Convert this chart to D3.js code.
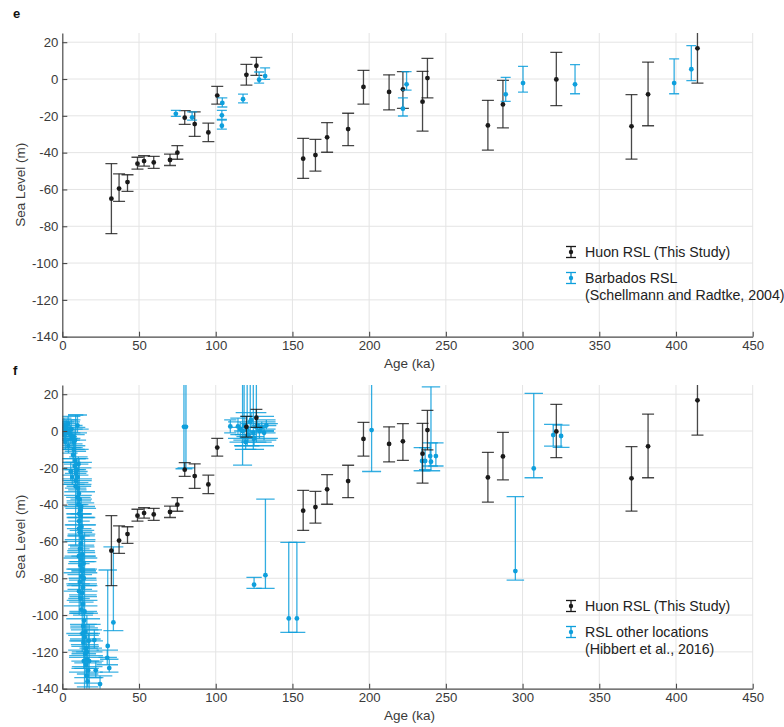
<!DOCTYPE html>
<html>
<head>
<meta charset="utf-8">
<script src="https://cdn.jsdelivr.net/npm/d3@7"></script>
<style>
  body { margin: 0; background: #fff; }
  svg { display: block; font-family: 'Liberation Sans', Arial, Helvetica, sans-serif; }
</style>
</head>
<body>
<svg id="chart" width="784" height="727"></svg>
<script>
// rows: [age (ka), RSL (m), lower (m), upper (m)]
const huonRSL = [
  [32, -65, -84, -46], [37, -59.5, -66.5, -51.5], [42.5, -56, -61, -52],
  [49, -46, -49, -42.5], [53.3, -44.6, -47.3, -41.7], [59.6, -45.3, -48.5, -42],
  [70.2, -44, -47, -40.8], [75, -40, -43.6, -36.2], [79.8, -21, -24.6, -17.2],
  [86.3, -24.5, -31.2, -17.8], [95.2, -29, -34, -24], [101, -9, -13.6, -4],
  [120, 2.3, -3.3, 8], [126.5, 7.2, 2, 11.8], [157, -43.3, -54, -32.2],
  [165, -41.3, -50, -32.8], [172.6, -31.7, -39.8, -23.7], [186.3, -27.2, -36.2, -18.6],
  [196.3, -4.3, -13.6, 4.7], [213, -7, -16.8, 2.3], [222, -5.6, -15.9, 4],
  [234.8, -12.3, -28.3, 4.2], [238, 0.5, -10.3, 11.2], [277.4, -25.2, -38.6, -11.6],
  [287.2, -13.8, -26.5, -0.7], [322, -0.2, -14.5, 14.5], [371, -25.7, -43.5, -8.5],
  [381.8, -8.3, -25.4, 9.2], [414, 16.7, -2.2, 36]
];

const barbadosRSL = [
  [74, -18.9, -20.3, -17], [84.6, -20.8, -22.3, -17.9], [104.3, -13, -15.2, -10.2],
  [104, -19.7, -21.9, -17], [104, -25.4, -27.2, -22.3], [117.8, -11, -13, -8.2],
  [128.3, -0.4, -2.2, 3.8], [132.2, 1.6, -0.2, 6], [222, -16.1, -20.1, -10.2],
  [224.4, -2.9, -6, 4], [289, -8.3, -12.1, 0.9], [300.3, -2.2, -7.1, 6.9],
  [334.2, -2.9, -8, 7.8], [398.8, -2.2, -8, 10.9], [410, 5.3, -0.9, 18.1]
];

// rows: [age (ka), RSL (m), lower (m), upper (m), cap half-width (ka)]
const hibbertPostglacial = [
  [0.3, 1, -3, 5, 4], [1.0, 3, -1, 7, 5], [1.8, 0, -5, 5, 6], [2.5, 2, -3, 6, 7],
  [3.0, -1, -6, 4, 6], [3.8, 4, -1, 8, 8], [4.5, 0, -5, 5, 7], [5.2, -2, -7, 3, 8],
  [5.8, 1, -4, 6, 6], [6.3, -4, -9, 1, 7], [7.0, -3, -8, 2, 8], [7.6, -6, -10, -2, 7],
  [2.0, -6, -10, -2, 5], [8.2, -5, -10, 1, 9], [9.9, 3, -1, 8.7, 6.2],
  [1.2, -2, -5, 2, 4], [4.0, -8, -12, -4, 6],
  [7.5, -10, -15, -5, 8], [8.5, -16, -21, -11, 7], [8.0, -19, -24, -15, 9],
  [9.3, -21, -26, -17, 10], [9.0, -23, -28, -18, 8], [10.0, -25, -29, -20, 9],
  [8.7, -27, -31, -23, 7], [5.5, -22, -27, -17, 6], [7.0, -13, -17, -9, 5],
  [10.5, -18, -22, -14, 6], [6.5, -25, -29, -21, 8],
  [10.2, -31, -35, -27, 9], [10.8, -34, -38, -30, 8], [11.3, -37, -41, -33, 10],
  [10.5, -40, -45, -36, 8], [11.8, -43, -47, -39, 9], [12.0, -46, -51, -42, 10],
  [11.0, -49, -53, -45, 8], [12.5, -52, -56, -47, 9], [11.6, -55, -59, -51, 10],
  [12.8, -58, -62, -54, 8], [9.8, -36, -40, -32, 6], [12.3, -41, -45, -37, 7],
  [10.9, -53, -57, -49, 7],
  [12.2, -61, -65, -57, 9], [11.5, -64, -68, -60, 10], [13.0, -67, -71, -63, 8],
  [12.4, -70, -75, -66, 9], [11.8, -73, -77, -69, 11], [13.2, -76, -80, -71, 9],
  [12.6, -79, -83, -75, 10], [11.4, -82, -86, -78, 8], [13.4, -85, -89, -81, 9],
  [12.9, -88, -92, -84, 10], [11.9, -91, -95, -87, 11], [13.6, -94, -98, -90, 9],
  [12.4, -97, -99, -93, 8], [10.8, -68, -72, -64, 7], [13.9, -72, -76, -68, 8],
  [10.9, -87, -91, -83, 7], [14.0, -80, -84, -76, 8],
  [14.2, -103, -107, -99, 9], [13.6, -106, -110, -102, 11], [15.0, -109, -113, -105, 10],
  [14.6, -112, -116, -108, 9], [13.8, -115, -119, -111, 10], [15.5, -118, -122, -114, 11],
  [14.9, -121, -125, -117, 9], [16.2, -124, -128, -120, 10], [15.4, -127, -131, -123, 11],
  [16.8, -130, -134, -126, 9], [15.8, -133, -137, -129, 8], [16.5, -136, -139, -132, 7],
  [13.2, -110, -114, -106, 8], [17.2, -114, -118, -110, 6], [14.0, -125, -129, -121, 8],
  [8.7, -30, -62, 8.7, 5], [11.0, -45, -100, -15, 4], [14.5, -98, -141, -55, 5],
  [16.0, -120, -141, -100, 4], [13.0, -75, -120, -40, 4], [17.5, -125, -141, -105, 5],
  [20.9, -113.6, -118, -108, 5], [21.8, -130, -134, -125, 5], [24.6, -137.5, -141, -133, 8],
  [29.6, -116.8, -123, -75.5, 6], [29.3, -123.2, -127, -119, 7], [30.6, -128.8, -131, -124, 6],
  [33.3, -104, -108.5, -62.9, 6.5]
];

const hibbertOlder = [
  [79.3, 2.3, -20.5, 60, 5.5], [80.6, 2.3, -20, 60, 5.5],
  [109.5, 2.5, -1, 6, 4], [114.5, 2.5, -2, 7, 5], [117.5, 0, -18.5, 40, 6.2],
  [118.5, 3, -5, 40, 7], [120.5, 1, -8, 40, 8], [122.5, 5, -3, 40, 9],
  [124.5, -1, -10, 40, 7], [126.5, 2, -6, 40, 10],
  [121, -2, -6, 2, 12], [123, 6, 2, 10, 10], [125, -4, -8, 0, 13],
  [127, 3, 0, 8, 11], [128.5, 0, -4, 4, 12], [130, 2, -1, 5, 9],
  [131.5, -1, -5, 3, 8], [133, 3, 1, 6, 6], [119.5, -6, -10, -2, 7], [116, 1, -4, 5, 8],
  [125, -83.5, -85.5, -79.5, 5], [132.4, -78.3, -85.5, -37, 6],
  [147.6, -101.8, -109.4, -60.5, 5.5], [152.9, -101.8, -109.4, -60.5, 5.5],
  [201.6, 0.5, -22, 60, 6.2],
  [234.5, -16.3, -21.6, -9, 5.5], [236.5, -16.3, -21, -9, 4], [239.8, -13.6, -19, -6.4, 5],
  [240.3, -16.7, -21.6, 24, 6], [243.5, -13.6, -19, -6.4, 5],
  [295.3, -76.1, -81, -35.7, 5.7], [307.3, -20.3, -25.4, 20.5, 6],
  [320, -2.2, -8.2, 3.6, 6], [325.1, -2.7, -8.9, 3.2, 5.5]
];

const ageTicks = [0, 50, 100, 150, 200, 250, 300, 350, 400, 450];
const rslTicks = [-140, -120, -100, -80, -60, -40, -20, 0, 20];

const BLACK = '#1a1a1a';
const BLUE = '#0e9fdc';

const svg = d3.select('#chart');

function errorBars(layer, data, x, y, color, capPx, lineOpacity)
{
  const grp = layer.append('g');
  const bars = grp.selectAll('g').data(data).join('g')
    .attr('stroke', color)
    .attr('stroke-width', 1.3)
    .attr('stroke-opacity', lineOpacity);

  bars.append('line')
    .attr('x1', d => x(d[0])).attr('x2', d => x(d[0]))
    .attr('y1', d => y(d[2])).attr('y2', d => y(d[3]));

  const half = d => capPx != null ? capPx : x(d[4]) - x(0);
  [2, 3].forEach(k => {
    bars.append('line')
      .attr('x1', d => x(d[0]) - half(d)).attr('x2', d => x(d[0]) + half(d))
      .attr('y1', d => y(d[k])).attr('y2', d => y(d[k]));
  });

  grp.selectAll('circle').data(data).join('circle')
    .attr('cx', d => x(d[0]))
    .attr('cy', d => y(d[1]))
    .attr('r', 2.4)
    .attr('fill', color);
}

function legendEntry(g, lx, ly, color, lines)
{
  const s = g.append('g').attr('stroke', color).attr('stroke-width', 1.3);
  s.append('line').attr('x1', lx).attr('x2', lx).attr('y1', ly - 5.5).attr('y2', ly + 5.5);
  s.append('line').attr('x1', lx - 5).attr('x2', lx + 5).attr('y1', ly - 5.5).attr('y2', ly - 5.5);
  s.append('line').attr('x1', lx - 5).attr('x2', lx + 5).attr('y1', ly + 5.5).attr('y2', ly + 5.5);
  g.append('circle').attr('cx', lx).attr('cy', ly).attr('r', 2.2).attr('fill', color);

  lines.forEach((t, i) => {
    g.append('text')
      .attr('x', lx + 14)
      .attr('y', ly + 5 + i * 17)
      .attr('font-size', 14.2)
      .attr('fill', '#222')
      .text(t);
  });
}

function drawPanel(id, letter, letterY, top, drawSeries, legend)
{
  const left = 62.3, right = 752.7, height = 303.7;
  const bottom = top + height;

  const x = d3.scaleLinear().domain([0, 450]).range([left, right]);
  const y = d3.scaleLinear().domain([-140, 25]).range([bottom, top]);

  const g = svg.append('g').attr('id', 'panel-' + id);

  // gridlines
  g.append('g').selectAll('line').data(ageTicks.slice(1)).join('line')
    .attr('x1', d => x(d)).attr('x2', d => x(d))
    .attr('y1', y(-140)).attr('y2', y(25))
    .attr('stroke', '#e4e4e4').attr('stroke-width', 1);
  g.append('g').selectAll('line').data(rslTicks.slice(1)).join('line')
    .attr('x1', x(0)).attr('x2', x(450))
    .attr('y1', d => y(d)).attr('y2', d => y(d))
    .attr('stroke', '#e4e4e4').attr('stroke-width', 1);

  g.append('clipPath').attr('id', 'clip-' + id)
    .append('rect')
    .attr('x', left).attr('y', top)
    .attr('width', right - left).attr('height', height);

  const plot = g.append('g').attr('clip-path', 'url(#clip-' + id + ')');
  drawSeries(plot, x, y);

  // axes with inward ticks
  const yAxis = g.append('g')
    .attr('transform', 'translate(' + left + ',0)')
    .call(d3.axisLeft(y).tickValues(rslTicks).tickSize(-5).tickSizeOuter(0).tickPadding(4)
      .tickFormat(d => String(d)));
  const xAxis = g.append('g')
    .attr('transform', 'translate(0,' + bottom + ')')
    .call(d3.axisBottom(x).tickValues(ageTicks).tickSize(-5).tickSizeOuter(0).tickPadding(4)
      .tickFormat(d => String(d)));

  [xAxis, yAxis].forEach(a => {
    a.select('.domain').attr('stroke', '#4a4a4a').attr('stroke-width', 1.2);
    a.selectAll('.tick line').attr('stroke', '#4a4a4a').attr('stroke-width', 1.1);
    a.selectAll('.tick text')
      .attr('font-size', 13.2)
      .attr('fill', '#3a3a3a')
      .attr('font-family', "'Liberation Sans', Arial, sans-serif");
  });

  g.append('text')
    .attr('x', (left + right) / 2 + 2)
    .attr('y', bottom + 31)
    .attr('text-anchor', 'middle')
    .attr('font-size', 13.5)
    .attr('fill', '#3a3a3a')
    .text('Age (ka)');

  g.append('text')
    .attr('transform', 'translate(25,' + (top + height / 2) + ') rotate(-90)')
    .attr('text-anchor', 'middle')
    .attr('font-size', 13.5)
    .attr('fill', '#3a3a3a')
    .text('Sea Level (m)');

  g.append('text')
    .attr('x', 13)
    .attr('y', letterY)
    .attr('font-size', 13)
    .attr('font-weight', 'bold')
    .attr('fill', '#111')
    .text(letter);

  legend(g, top);
}

drawPanel('e', 'e', 18, 33,
  (plot, x, y) => {
    errorBars(plot, huonRSL, x, y, BLACK, 6, 0.8);
    errorBars(plot, barbadosRSL, x, y, BLUE, 5, 0.85);
  },
  (g, top) => {
    legendEntry(g, 571, top + 219, BLACK, ['Huon RSL (This Study)']);
    legendEntry(g, 571, top + 245, BLUE, ['Barbados RSL', '(Schellmann and Radtke, 2004)']);
  });

drawPanel('f', 'f', 375, 385,
  (plot, x, y) => {
    errorBars(plot, hibbertPostglacial, x, y, BLUE, null, 0.8);
    errorBars(plot, hibbertOlder, x, y, BLUE, null, 0.85);
    errorBars(plot, huonRSL, x, y, BLACK, 6, 0.8);
  },
  (g, top) => {
    legendEntry(g, 571, top + 221, BLACK, ['Huon RSL (This Study)']);
    legendEntry(g, 571, top + 247, BLUE, ['RSL other locations', '(Hibbert et al., 2016)']);
  });
</script>
</body>
</html>
